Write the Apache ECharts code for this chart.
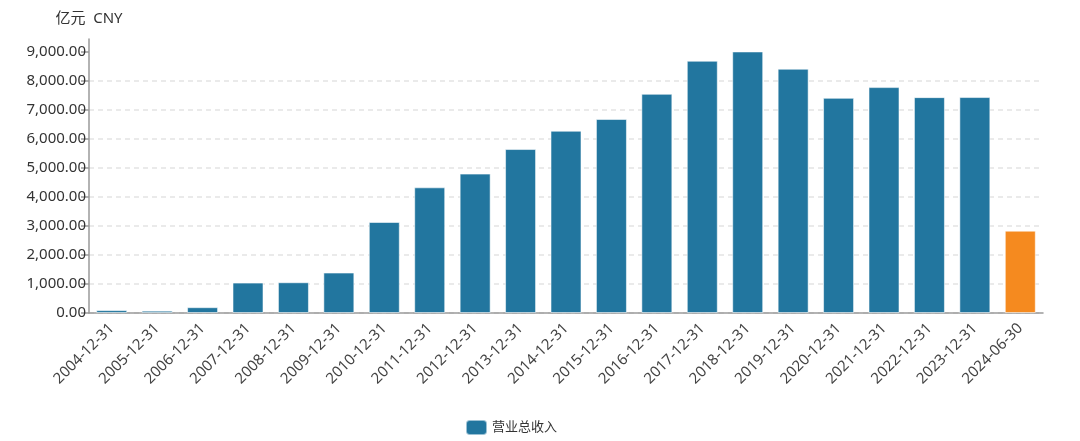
<!DOCTYPE html>
<html>
<head>
<meta charset="utf-8">
<script src="https://cdn.jsdelivr.net/npm/echarts@6/dist/echarts.min.js"></script>
<style>
html,body{margin:0;padding:0;background:#fff;}
#mychart{width:1080px;height:441px;}
</style>
</head>
<body>
<div id="mychart"></div>
<script>
// 报告期
var categories = ['2004-12-31','2005-12-31','2006-12-31','2007-12-31','2008-12-31','2009-12-31',
    '2010-12-31','2011-12-31','2012-12-31','2013-12-31','2014-12-31','2015-12-31','2016-12-31',
    '2017-12-31','2018-12-31','2019-12-31','2020-12-31','2021-12-31','2022-12-31','2023-12-31','2024-06-30'];
// 营业总收入（亿元）
var revenue = [100, 80, 200, 1050, 1060, 1395, 3138, 4334, 4807, 5655, 6286, 6690, 7560,
    8700, 9020, 8424, 7421, 7791, 7445, 7448, 2840];
var yTicks = [0, 1000, 2000, 3000, 4000, 5000, 6000, 7000, 8000, 9000];

var font = '"Noto Sans","Noto Sans CJK SC",sans-serif';
var blue = '#22769f';
var orange = '#f58a1f';

var myEcharts = echarts.init(document.getElementById('mychart'));
var option = {
    animation: false,
    textStyle: { fontFamily: font },
    legend: {
        bottom: 0,
        left: 460,
        icon: 'roundRect',
        itemWidth: 21,
        itemHeight: 15,
        itemGap: 9,
        textStyle: { fontSize: 13, color: '#333', fontFamily: font },
        data: ['营业总收入']
    },
    grid: {
        left: 89,
        right: 37,
        top: 39,
        bottom: 128
    },
    xAxis: {
        type: 'category',
        data: categories,
        axisLine: { lineStyle: { color: '#9a9a9a', width: 1.5 } },
        axisTick: { alignWithLabel: true, length: 9, lineStyle: { color: '#9a9a9a', width: 1.5 } },
        axisLabel: {
            rotate: 45,
            interval: 0,
            fontSize: 15,
            color: '#444',
            fontFamily: font,
            margin: 13
        }
    },
    yAxis: {
        type: 'value',
        name: '亿元  CNY',
        nameLocation: 'end',
        nameGap: 13,
        nameTextStyle: { fontSize: 15, color: '#333', fontFamily: font, align: 'center' },
        min: 0,
        max: 9450,
        interval: 1000,
        axisLine: { show: true, lineStyle: { color: '#9a9a9a', width: 1.5 } },
        axisTick: { show: true, length: 8, customValues: yTicks, lineStyle: { color: '#9a9a9a', width: 1.5 } },
        axisLabel: {
            fontSize: 15,
            color: '#333',
            fontFamily: font,
            margin: 3,
            showMaxLabel: false,
            formatter: function (v) {
                return v.toLocaleString('en-US', { minimumFractionDigits: 2, maximumFractionDigits: 2 });
            }
        },
        splitLine: {
            show: true,
            showMaxLine: false,
            lineStyle: { color: '#e3e3e3', type: [5, 4], width: 1.5 }
        }
    },
    series: [
        {
            name: '营业总收入',
            type: 'bar',
            barWidth: 31,
            color: blue,
            itemStyle: {
                color: function (p) {
                    return p.dataIndex === revenue.length - 1 ? orange : blue;
                },
                borderColor: 'rgba(255,255,255,0.55)',
                borderWidth: 1
            },
            data: revenue
        }
    ]
};
myEcharts.setOption(option);
</script>
</body>
</html>
